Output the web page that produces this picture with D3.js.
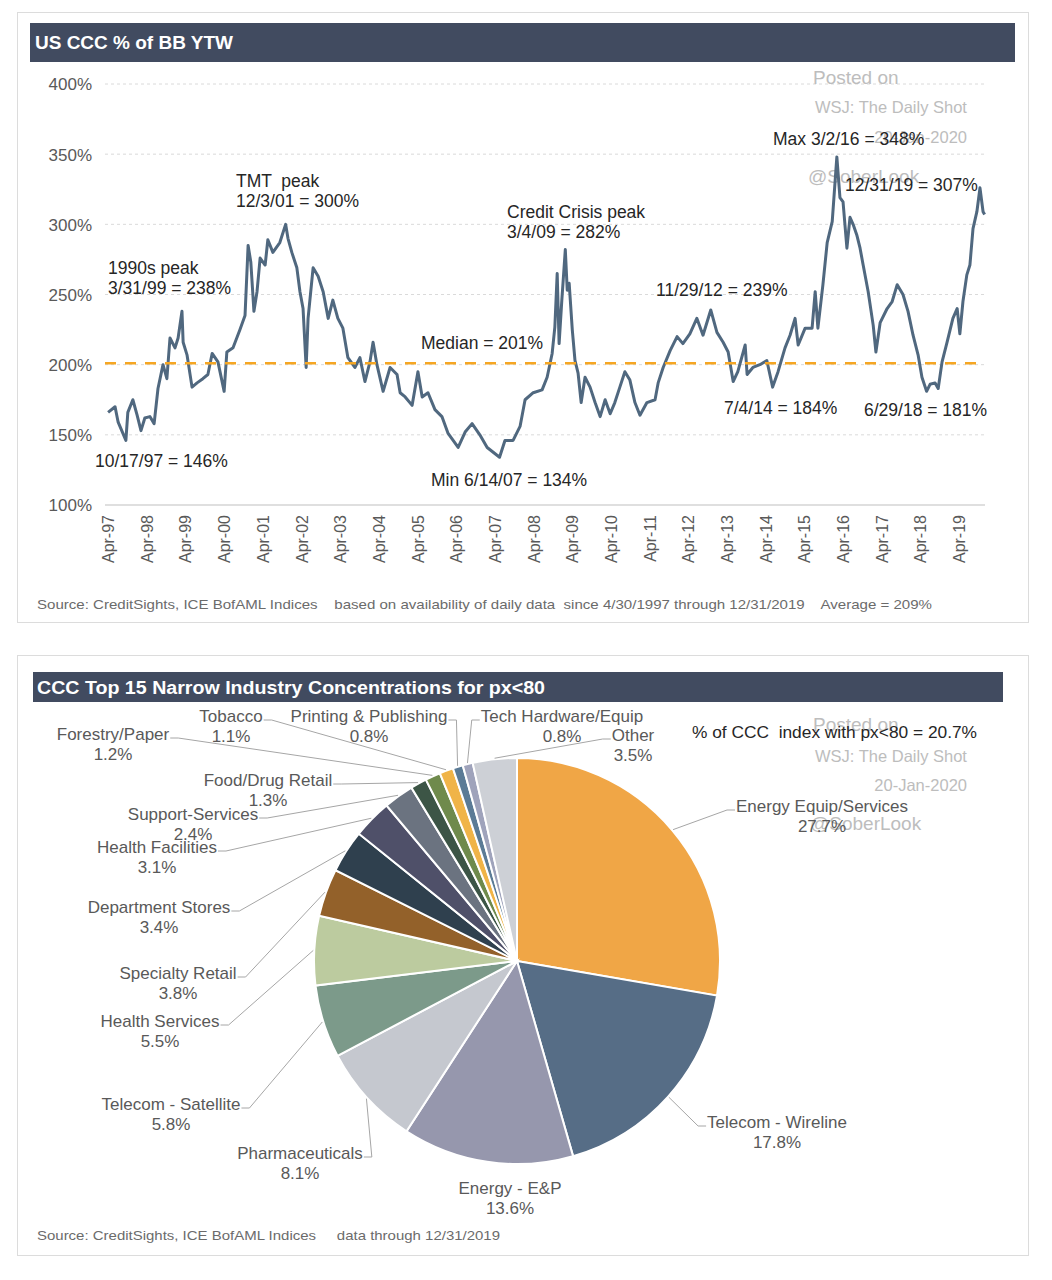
<!DOCTYPE html>
<html><head><meta charset="utf-8">
<script src="https://cdn.jsdelivr.net/npm/d3@7"></script>
<style>
body{margin:0;background:#fff;}
svg{display:block;font-family:"Liberation Sans",Arial,sans-serif;}
</style>
</head><body>
<svg id="c" width="1052" height="1280"></svg>
<script>
// ---------- DATA ----------
const lineDates = [1997.33,1997.51,1997.59,1997.79,1997.84,1997.97,1998.08,1998.18,1998.28,1998.41,1998.52,1998.62,1998.75,1998.85,1998.93,1999.06,1999.14,1999.24,1999.27,1999.37,1999.50,1999.63,1999.78,1999.91,2000.02,2000.17,2000.33,2000.40,2000.56,2000.74,2000.87,2000.95,2001.02,2001.10,2001.18,2001.26,2001.39,2001.46,2001.59,2001.77,2001.92,2001.98,2002.08,2002.21,2002.29,2002.37,2002.45,2002.50,2002.63,2002.76,2002.89,2003.02,2003.14,2003.27,2003.40,2003.53,2003.71,2003.84,2003.97,2004.10,2004.18,2004.28,2004.44,2004.62,2004.80,2004.88,2005.01,2005.19,2005.34,2005.45,2005.60,2005.78,2005.96,2006.12,2006.38,2006.56,2006.74,2006.94,2007.13,2007.45,2007.59,2007.80,2007.98,2008.11,2008.32,2008.55,2008.68,2008.81,2008.88,2008.94,2008.99,2009.06,2009.15,2009.20,2009.25,2009.33,2009.40,2009.48,2009.56,2009.66,2009.79,2009.92,2010.05,2010.18,2010.31,2010.43,2010.56,2010.69,2010.82,2010.95,2011.08,2011.26,2011.47,2011.55,2011.68,2011.86,2012.04,2012.19,2012.37,2012.55,2012.71,2012.91,2013.07,2013.23,2013.36,2013.49,2013.61,2013.80,2013.85,2014.00,2014.18,2014.36,2014.51,2014.65,2014.83,2014.96,2015.09,2015.17,2015.35,2015.53,2015.61,2015.68,2015.81,2015.92,2016.05,2016.17,2016.25,2016.33,2016.43,2016.51,2016.59,2016.69,2016.77,2016.85,2016.98,2017.11,2017.18,2017.29,2017.47,2017.60,2017.73,2017.88,2018.01,2018.14,2018.27,2018.37,2018.49,2018.58,2018.71,2018.79,2018.89,2019.02,2019.17,2019.28,2019.35,2019.43,2019.53,2019.61,2019.69,2019.79,2019.87,2019.95,2019.99];
const lineValues = [166,170,159,146,166,175,164,153,162,163,158,183,200,190,219,212,219,238,216,207,184,187,190,193,208,202,181,209,212,225,235,285,273,238,252,276,271,289,280,287,300,290,280,269,252,240,198,233,269,263,252,233,246,233,226,205,198,205,188,202,216,200,181,198,193,180,177,171,195,177,180,168,163,151,141,152,158,150,141,134,146,146,156,175,180,182,191,208,227,265,215,246,282,253,258,225,203,194,173,191,184,173,163,175,165,173,184,195,189,173,164,173,175,187,198,210,220,215,222,233,221,239,223,216,209,188,195,214,193,198,200,203,184,195,212,221,233,214,226,226,252,226,257,287,302,348,319,316,283,305,300,292,283,271,252,228,209,230,240,245,257,250,238,221,207,191,181,186,187,183,202,216,233,240,222,245,264,271,297,309,326,309,307];
const yTickValues = [100,150,200,250,300,350,400];
const xTickLabels = ["Apr-97","Apr-98","Apr-99","Apr-00","Apr-01","Apr-02","Apr-03","Apr-04","Apr-05","Apr-06","Apr-07","Apr-08","Apr-09","Apr-10","Apr-11","Apr-12","Apr-13","Apr-14","Apr-15","Apr-16","Apr-17","Apr-18","Apr-19"];
const medianValue = 201;
const annotationTexts = [
  ["TMT  peak","12/3/01 = 300%"],
  ["1990s peak","3/31/99 = 238%"],
  ["10/17/97 = 146%"],
  ["Credit Crisis peak","3/4/09 = 282%"],
  ["Median = 201%"],
  ["Min 6/14/07 = 134%"],
  ["11/29/12 = 239%"],
  ["7/4/14 = 184%"],
  ["6/29/18 = 181%"],
  ["Max 3/2/16 = 348%"],
  ["12/31/19 = 307%"]
];
const pieCategories = ["Energy Equip/Services","Telecom - Wireline","Energy - E&P","Pharmaceuticals","Telecom - Satellite","Health Services","Specialty Retail","Department Stores","Health Facilities","Support-Services","Food/Drug Retail","Forestry/Paper","Tobacco","Printing & Publishing","Tech Hardware/Equip","Other"];
const pieValues = [27.7,17.8,13.6,8.1,5.8,5.5,3.8,3.4,3.1,2.4,1.3,1.2,1.1,0.8,0.8,3.5];

// ---------- LAYOUT / STYLE ----------
const annotationPos = [[236,187],[108,274],[95,467],[507,218],[421,349],[431,486],[656,296],[724,414],[864,416],[773,145],[845,191]];
const pieColors = ["#f0a646","#566d86","#9697ad","#c5c8cf","#7c9a8a","#bccb9f","#93612a","#2f404e","#4f5069","#6b7380","#3c5546","#6f8a4c","#f0b448","#5b7b96","#9fa3bb","#cdd0d6"];
const pieLabelPos = [[822,812,"left"],[777,1128,"left"],[510,1194,"none"],[300,1159,"right"],[171,1110,"right"],[160,1027,"right"],[178,979,"right"],[159,913,"right"],[157,853,"right"],[193,820,"right"],[268,786,"right"],[113,740,"right"],[231,722,"right"],[369,722,"right"],[562,722,"left"],[633,741,"left"]];

const svg = d3.select("#c");
const wmColor = "#bdbdbd";

// panels
svg.append("rect").attr("x",17.5).attr("y",12.5).attr("width",1011).attr("height",610).attr("fill","#fff").attr("stroke","#dcdcdc");
svg.append("rect").attr("x",17.5).attr("y",655.5).attr("width",1011).attr("height",600).attr("fill","#fff").attr("stroke","#dcdcdc");

// title bars
svg.append("rect").attr("x",30).attr("y",23).attr("width",985).attr("height",39).attr("fill","#414b60");
svg.append("text").attr("x",35).attr("y",49).attr("fill","#fff").attr("font-weight","bold").attr("font-size",18)
  .attr("textLength",198).attr("lengthAdjust","spacingAndGlyphs").text("US CCC % of BB YTW");
svg.append("rect").attr("x",33).attr("y",672).attr("width",970).attr("height",30).attr("fill","#414b60");
svg.append("text").attr("x",37).attr("y",694).attr("fill","#fff").attr("font-weight","bold").attr("font-size",18)
  .attr("textLength",508).attr("lengthAdjust","spacingAndGlyphs").text("CCC Top 15 Narrow Industry Concentrations for px<80");

// ---------- LINE CHART ----------
const x = d3.scaleLinear().domain([1997.25, 2020.0]).range([105, 985]);
const y = d3.scaleLinear().domain([100, 400]).range([505, 84]);

const grid = svg.append("g");
yTickValues.forEach(v => {
  if (v === 100) {
    grid.append("line").attr("x1",105).attr("x2",985).attr("y1",y(v)).attr("y2",y(v)).attr("stroke","#d4d4d4").attr("stroke-width",1.5);
  } else {
    grid.append("line").attr("x1",105).attr("x2",985).attr("y1",y(v)).attr("y2",y(v)).attr("stroke","#dadada").attr("stroke-width",1).attr("stroke-dasharray","3,3");
  }
});

const yAxis = d3.axisLeft(y).tickValues(yTickValues).tickFormat(d => d + "%").tickSize(0).tickPadding(0);
const yg = svg.append("g").attr("transform","translate(92,0)").call(yAxis);
yg.select(".domain").remove();
yg.selectAll("text").attr("font-size",17).attr("fill","#595959").attr("font-family","Liberation Sans, Arial, sans-serif").attr("dy","0.35em");

const xTickVals = xTickLabels.map((d,i) => 1997.25 + i);
const xAxis = d3.axisBottom(x).tickValues(xTickVals).tickFormat((d,i) => xTickLabels[i]).tickSize(0);
const xg = svg.append("g").attr("transform","translate(0,505)").call(xAxis);
xg.select(".domain").remove();
xg.selectAll("text").attr("font-size",16).attr("fill","#595959").attr("font-family","Liberation Sans, Arial, sans-serif")
  .attr("transform","rotate(-90)").attr("x",-10).attr("y",3).attr("dy","0.35em").style("text-anchor","end");

// watermark (top)
const wm1 = svg.append("g").attr("fill",wmColor);
wm1.append("text").attr("x",813).attr("y",84).attr("font-size",19).text("Posted on");
wm1.append("text").attr("x",815).attr("y",113).attr("font-size",16.5).text("WSJ: The Daily Shot");
wm1.append("text").attr("x",967).attr("y",143).attr("font-size",16.5).attr("text-anchor","end").text("20-Jan-2020");
wm1.append("text").attr("x",808).attr("y",183).attr("font-size",19).text("@SoberLook");

// line
const pts = lineDates.map((d,i) => [d, lineValues[i]]);
svg.append("path").datum(pts).attr("fill","none").attr("stroke","#50687f").attr("stroke-width",3).attr("stroke-linejoin","round")
  .attr("d", d3.line().x(d => x(d[0])).y(d => y(d[1])));

// median
svg.append("line").attr("x1",105).attr("x2",985).attr("y1",y(medianValue)).attr("y2",y(medianValue))
  .attr("stroke","#f5a623").attr("stroke-width",2.5).attr("stroke-dasharray","11,9");

// annotations
const ann = svg.append("g").attr("fill","#262626").attr("font-size",17.5);
annotationTexts.forEach((lines,i) => {
  const [ax, ay] = annotationPos[i];
  lines.forEach((t,j) => ann.append("text").attr("x",ax).attr("y",ay + j*20).style("white-space","pre").text(t));
});

// source
svg.append("text").attr("x",37).attr("y",609).attr("font-size",13).attr("fill","#6b6b6b").style("white-space","pre")
  .attr("textLength",895).attr("lengthAdjust","spacingAndGlyphs")
  .text("Source: CreditSights, ICE BofAML Indices    based on availability of daily data  since 4/30/1997 through 12/31/2019    Average = 209%");

// ---------- PIE ----------
const cx = 517, cy = 961, R = 203;
const pie = d3.pie().sort(null).value(d => d)(pieValues);
const arc = d3.arc().innerRadius(0).outerRadius(R);
const pg = svg.append("g").attr("transform",`translate(${cx},${cy})`);
pg.selectAll("path").data(pie).enter().append("path")
  .attr("d", arc).attr("fill",(d,i) => pieColors[i]).attr("stroke","#fff").attr("stroke-width",2);

// watermark (pie)
const wm2 = svg.append("g").attr("fill",wmColor);
wm2.append("text").attr("x",813).attr("y",731).attr("font-size",19).text("Posted on");
wm2.append("text").attr("x",815).attr("y",762).attr("font-size",16.5).text("WSJ: The Daily Shot");
wm2.append("text").attr("x",967).attr("y",791).attr("font-size",16.5).attr("text-anchor","end").text("20-Jan-2020");
wm2.append("text").attr("x",810).attr("y",830).attr("font-size",19).text("@SoberLook");

// labels + leaders
const lg = svg.append("g");
pie.forEach((d,i) => {
  const [lx, ly, side] = pieLabelPos[i];
  const t1 = lg.append("text").attr("x",lx).attr("y",ly).attr("text-anchor","middle").attr("font-size",17).attr("fill","#595959").text(pieCategories[i]);
  lg.append("text").attr("x",lx).attr("y",ly+20).attr("text-anchor","middle").attr("font-size",17).attr("fill","#595959").text(d.data.toFixed(1) + "%");
  if (side !== "none") {
    const w = t1.node().getComputedTextLength();
    const mid = (d.startAngle + d.endAngle) / 2;
    const px = cx + (R + 1) * Math.sin(mid), py = cy - (R + 1) * Math.cos(mid);
    const sx = side === "right" ? lx + w/2 + 1 : lx - w/2 - 1;
    const sy = ly - 2;
    const hx = side === "right" ? sx + 8 : sx - 8;
    lg.append("polyline").attr("points",`${sx},${sy} ${hx},${sy} ${px},${py}`)
      .attr("fill","none").attr("stroke","#a6a6a6").attr("stroke-width",1);
  }
});

svg.append("text").attr("x",692).attr("y",738).attr("font-size",16).attr("fill","#262626").style("white-space","pre")
  .attr("textLength",285).attr("lengthAdjust","spacingAndGlyphs").text("% of CCC  index with px<80 = 20.7%");

svg.append("text").attr("x",37).attr("y",1240).attr("font-size",13).attr("fill","#6b6b6b").style("white-space","pre")
  .attr("textLength",463).attr("lengthAdjust","spacingAndGlyphs")
  .text("Source: CreditSights, ICE BofAML Indices     data through 12/31/2019");
</script>
</body></html>
